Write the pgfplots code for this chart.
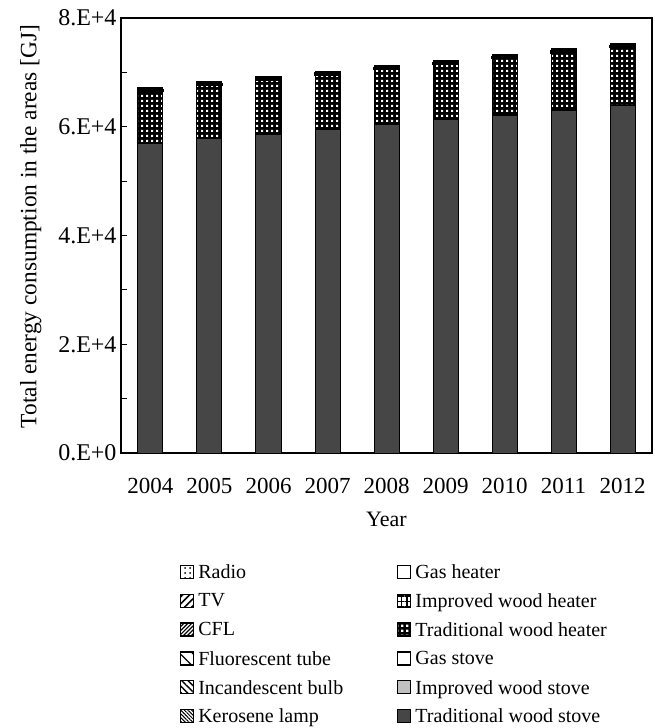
\documentclass[border=0pt]{standalone}
\usepackage{pgfplots}
\pgfplotsset{compat=1.18}
\usepackage{fontspec}
\setmainfont{Liberation Serif}
\usetikzlibrary{patterns,patterns.meta}
\tikzdeclarepattern{
  name=whitesq,
  type=uncolored,
  bounding box={(0pt,0pt) and (5pt,5pt)},
  tile size={(5pt,5pt)},
  code={\pgfpathrectangle{\pgfpoint{1.2pt}{1.2pt}}{\pgfpoint{2.6pt}{2.6pt}}\pgfusepath{fill}}
}
\definecolor{darkstove}{RGB}{70,70,70}
\definecolor{lightstove}{RGB}{192,192,192}

\pgfplotstableread{
x tws iws gs twh iwh gh ker inc flu cfl tv radio
0 57000 30 20 9500 150 100 200 120 60 40 60 20
1 57750 30 20 9750 150 100 200 120 60 40 60 20
2 58550 30 20 9850 150 100 200 120 60 40 60 20
3 59460 30 20 9990 150 100 200 120 60 40 60 20
4 60380 30 20 10050 150 100 200 120 60 40 60 20
5 61300 30 20 10120 150 100 200 120 60 40 60 20
6 62160 30 20 10300 150 100 200 120 60 40 60 20
7 63080 30 20 10420 150 100 200 120 60 40 60 20
8 63940 30 20 10540 150 100 200 120 60 40 60 20
}\datatable

\begin{document}
\begin{tikzpicture}
\begin{axis}[
  name=ax,
  scale only axis,
  width=531pt, height=435pt,
  ybar stacked,
  bar width=25pt,
  xmin=-0.5, xmax=8.5,
  ymin=0, ymax=80000,
  xtick=data,
  xticklabels={2004,2005,2006,2007,2008,2009,2010,2011,2012},
  x tick style={draw=none},
  ytick={0,20000,40000,60000,80000},
  yticklabels={0.E+0,2.E+4,4.E+4,6.E+4,8.E+4},
  minor ytick={10000,30000,50000,70000},
  tick align=inside,
  ytick pos=left,
  major tick length=6pt, minor tick length=6pt,
  tick style={line width=1pt,black},
  scaled y ticks=false,
  axis line style={line width=1.2pt},
  xticklabel style={font=\fontsize{23}{27}\selectfont, yshift=-22pt},
  yticklabel style={font=\fontsize{24}{28}\selectfont, xshift=-1pt},
  xlabel={Year},
  ylabel={Total energy consumption in the areas [GJ]},
  xlabel style={font=\fontsize{22}{26}\selectfont, yshift=-11pt},
  ylabel style={font=\fontsize{23.4}{27}\selectfont, yshift=10pt, xshift=9pt},
  every axis plot/.append style={draw=black, line width=1pt},
  legend image code/.code={\draw[#1, line width=1.2pt] (0pt,-6pt) rectangle (13pt,7pt);},
  reverse legend,
  transpose legend,
  legend columns=6,
  legend cell align=left,
  legend style={at={(0.5,-0.252)}, anchor=north, xshift=8pt, draw=none, fill=none,
    inner sep=0pt, outer sep=0pt,
    font=\fontsize{20}{24}\selectfont, row sep=9.5pt,
    /tikz/every even column/.append style={column sep=52pt},
    /tikz/every odd column/.append style={column sep=2pt}},
]
\addplot[fill=darkstove] table[x=x,y=tws]{\datatable};
\addlegendentry{Traditional wood stove}
\addplot[fill=lightstove] table[x=x,y=iws]{\datatable};
\addlegendentry{Improved wood stove}
\addplot[fill=white] table[x=x,y=gs]{\datatable};
\addlegendentry{Gas stove}
\addplot[fill=black, postaction={pattern=whitesq, pattern color=white}] table[x=x,y=twh]{\datatable};
\addlegendentry{Traditional wood heater}
\addplot[fill=white, postaction={pattern={Hatch[angle=0,distance=5.5pt,line width=1.6pt]}}] table[x=x,y=iwh]{\datatable};
\addlegendentry{Improved wood heater}
\addplot[fill=white, line width=2.5pt] table[x=x,y=gh]{\datatable};
\addlegendentry{Gas heater}
\addplot[fill=white, postaction={pattern={Lines[angle=-45,distance=2.6pt,line width=1pt]}}] table[x=x,y=ker]{\datatable};
\addlegendentry{Kerosene lamp}
\addplot[fill=white, postaction={pattern={Lines[angle=-45,distance=4.5pt,line width=1.4pt]}}] table[x=x,y=inc]{\datatable};
\addlegendentry{Incandescent bulb}
\addplot[fill=white, postaction={pattern={Lines[angle=-45,distance=9pt,line width=1.2pt]}}] table[x=x,y=flu]{\datatable};
\addlegendentry{Fluorescent tube}
\addplot[fill=white, postaction={pattern={Lines[angle=45,distance=2.8pt,line width=1.2pt]}}] table[x=x,y=cfl]{\datatable};
\addlegendentry{CFL}
\addplot[fill=white, postaction={pattern={Lines[angle=45,distance=5pt,line width=1.6pt]}}] table[x=x,y=tv]{\datatable};
\addlegendentry{TV}
\addplot[fill=white, postaction={pattern={Dots[distance=5pt,radius=1pt]}}] table[x=x,y=radio]{\datatable};
\addlegendentry{Radio}
\end{axis}
\path ([xshift=-121pt,yshift=18pt]ax.north west) rectangle ([xshift=3pt,yshift=-275pt]ax.south east);
\end{tikzpicture}
\end{document}
